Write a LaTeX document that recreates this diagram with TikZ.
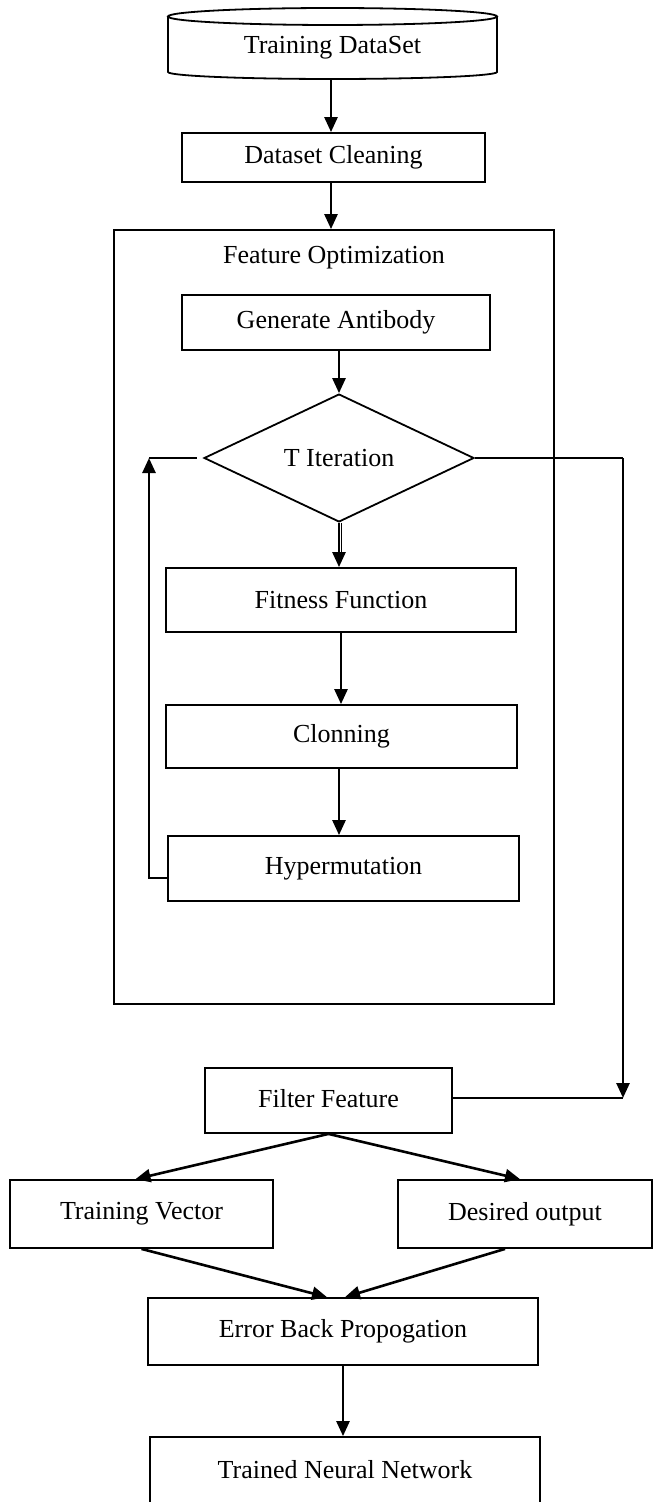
\documentclass[tikz,border=0pt]{standalone}
\usepackage{fontspec}
\setmainfont{Liberation Serif}
\usetikzlibrary{shapes.geometric,arrows.meta,calc}
\begin{document}
\begin{tikzpicture}[x=0.5pt,y=-0.5pt,
  font=\fontsize{13pt}{15pt}\selectfont,
  box/.style={draw, line width=0.9pt, rectangle, inner sep=0pt, align=center},
  arr/.style={line width=1.3pt, -{Triangle[width=6.5pt,length=7.5pt]}},
  ln/.style={line width=1.3pt},
  thinln/.style={line width=0.8pt}]
\useasboundingbox (0,0) rectangle (655,1502);
\fill[white] (0,0) rectangle (655,1502);

% cylinder
\draw[line width=0.9pt] (332.5,16.5) ellipse [x radius=82.25pt, y radius=4.25pt];
\draw[line width=0.9pt] (168,16.5) -- (168,72) arc[start angle=180, end angle=360, x radius=82.25pt, y radius=3.5pt] -- (497,16.5);
\node (ds) at (332.5,48) {Training DataSet};
\coordinate (dsb) at (331,79);

\node[box, minimum width=151.5pt, minimum height=24.5pt] (dc) at (333.5,157.5) {Dataset Cleaning};
\node[box, minimum width=220pt, minimum height=387pt] (fo) at (334,617) {};
\node (fol) at (334,258) {Feature Optimization};
\node[box, minimum width=154pt, minimum height=27.5pt] (ga) at (336,322.5) {Generate Antibody};
\node[draw, diamond, line width=0.9pt, minimum width=135pt, minimum height=39pt, inner sep=0pt] (d) at (339,458) {T Iteration};
\node[box, minimum width=175pt, minimum height=32pt] (fit) at (341,600) {Fitness Function};
\node[box, minimum width=175.5pt, minimum height=31.5pt] (cl) at (341.5,736.5) {Clonning};
\node[box, minimum width=175.5pt, minimum height=32.5pt] (hy) at (343.5,868.5) {Hypermutation};
\node[box, minimum width=123.5pt, minimum height=32.5pt] (ff) at (328.5,1100.5) {\raisebox{2pt}{Filter Feature}};
\node[box, minimum width=131.5pt, minimum height=34pt] (tv) at (141.5,1214) {Training Vector};
\node[box, minimum width=127pt, minimum height=34pt] (do) at (525,1214) {Desired output};
\node[box, minimum width=195pt, minimum height=33.5pt] (eb) at (343,1331.5) {\raisebox{3pt}{Error Back Propogation}};
\node[box, minimum width=195pt, minimum height=38pt] (tn) at (345,1475) {\raisebox{6pt}{Trained Neural Network}};

\coordinate (lp) at (149,458);
\coordinate (rc) at (623,458);
\coordinate (rb) at (623,1098);

% connectors
\draw[arr] (dsb) -- (dsb |- dc.north);
\draw[arr] ([xshift=-1.25pt]dc.south) -- ([xshift=-1.25pt]dc.south |- fo.north);
\draw[arr] (ga.south -| d.north) -- (d.north);
\draw[arr] (d.south) -- (d.south |- fit.north);
\draw[line width=0.6pt] ([xshift=1.2pt]d.south) -- ([xshift=1.2pt,yshift=7pt]d.south |- fit.north);
\draw[arr] (fit.south) -- (fit.south |- cl.north);
\draw[arr] ([xshift=-1.25pt]cl.south) -- ([xshift=-1.25pt]cl.south |- hy.north);
\draw[arr] ([yshift=-4.75pt]hy.west) -| (lp);
\draw[thinln] (lp) -- ([xshift=-3pt]d.west);
\draw[ln] (d.east) -- (rc);
\draw[arr] (rc) -- (rb);
\draw[thinln] (rb -| ff.east) -- (rb);
\draw[arr] (ff.south) -- ([xshift=-3pt]tv.north);
\draw[arr] (ff.south) -- ([xshift=-2.5pt]do.north);
\draw[arr] (tv.south) -- ([xshift=-8pt]eb.north);
\draw[arr] ([xshift=-10pt]do.south) -- ([xshift=1pt]eb.north);
\draw[arr] (eb.south) -- (eb.south |- tn.north);
\end{tikzpicture}
\end{document}
